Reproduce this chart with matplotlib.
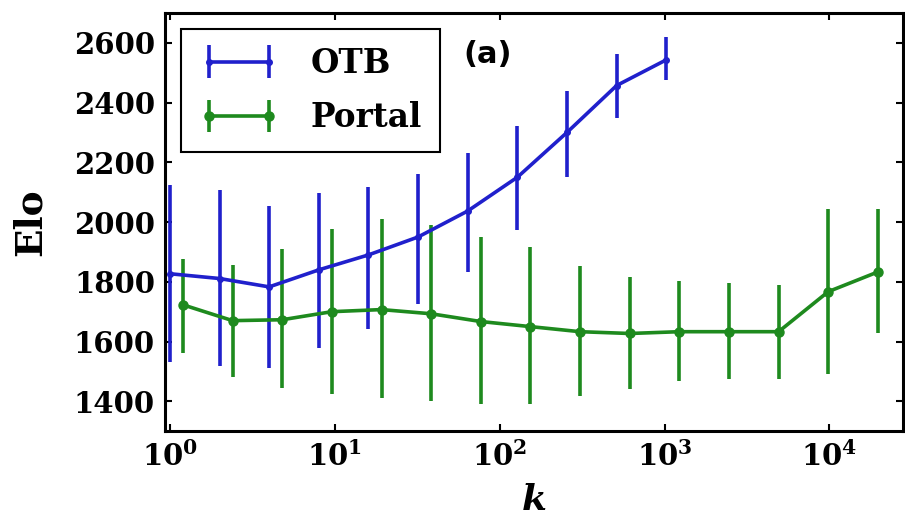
import matplotlib
matplotlib.use("Agg")
import matplotlib.pyplot as plt
from matplotlib.ticker import FixedLocator, FuncFormatter, NullLocator
import numpy as np

plt.rcParams['mathtext.fontset'] = 'custom'
plt.rcParams['mathtext.rm'] = 'DejaVu Serif:bold'
plt.rcParams['mathtext.bf'] = 'DejaVu Serif:bold'
plt.rcParams['mathtext.it'] = 'DejaVu Serif:italic:bold'

# OTB series
otb_k = [1, 2, 4, 8, 16, 32, 64, 128, 256, 512, 1024]
otb_elo = [1827, 1811, 1783, 1840, 1890, 1950, 2037, 2150, 2300, 2457, 2543]
otb_lo = [1533, 1517, 1513, 1580, 1643, 1727, 1833, 1973, 2150, 2347, 2477]
otb_hi = [2123, 2107, 2053, 2097, 2117, 2160, 2230, 2320, 2440, 2563, 2620]

# Portal series
portal_k = [1.2, 2.4, 4.8, 9.6, 19.2, 38.4, 76.8, 153.6, 307.2, 614.4,
            1228.8, 2457.6, 4915.2, 9830.4, 19660.8]
portal_elo = [1723, 1670, 1673, 1700, 1707, 1693, 1667, 1650, 1633, 1627,
              1633, 1633, 1633, 1767, 1833]
portal_lo = [1563, 1483, 1443, 1423, 1410, 1400, 1390, 1390, 1417, 1440,
             1467, 1473, 1473, 1490, 1627]
portal_hi = [1877, 1857, 1910, 1977, 2010, 1990, 1950, 1917, 1853, 1817,
             1803, 1797, 1790, 2043, 2043]

y_ticks = [1400, 1600, 1800, 2000, 2200, 2400, 2600]
x_ticks = [1, 10, 100, 1000, 10000]

blue = '#2020cc'
green = '#1e8a1e'

fig = plt.figure(figsize=(9.05, 5.17), dpi=100)
ax = fig.add_axes([0.182, 0.166, 0.816, 0.809])

def err(v, lo, hi):
    v = np.array(v); lo = np.array(lo); hi = np.array(hi)
    return np.vstack([v - lo, hi - v])

ax.errorbar(otb_k, otb_elo, yerr=err(otb_elo, otb_lo, otb_hi), color=blue,
            lw=2.6, elinewidth=2.6, marker='o', ms=4, capsize=0, label='OTB')
ax.errorbar(portal_k, portal_elo, yerr=err(portal_elo, portal_lo, portal_hi),
            color=green, lw=2.6, elinewidth=2.6, marker='o', ms=6.5, capsize=0,
            label='Portal')

ax.set_xscale('log')
ax.set_xlim(0.93, 28000)
ax.set_ylim(1300, 2700)

ax.xaxis.set_major_locator(FixedLocator(x_ticks))
ax.xaxis.set_minor_locator(NullLocator())
ax.xaxis.set_major_formatter(FuncFormatter(
    lambda v, p: r'$10^{%d}$' % int(round(np.log10(v)))))
ax.yaxis.set_major_locator(FixedLocator(y_ticks))
ax.yaxis.set_major_formatter(FuncFormatter(lambda v, p: '%d' % v))

ax.tick_params(axis='both', which='major', direction='in', length=5, width=1.5,
               top=True, right=True, labelsize=21, pad=7)
ax.tick_params(axis='y', labelfontfamily='DejaVu Serif')
for s in ax.spines.values():
    s.set_linewidth(2.2)

ax.set_ylabel('Elo', fontsize=27, fontweight='bold', family='DejaVu Serif')
ax.yaxis.set_label_coords(-0.157, 0.50)
ax.set_xlabel(r'$k$', fontsize=26)
ax.xaxis.set_label_coords(0.5, -0.125)

leg = ax.legend(loc='upper left', numpoints=2, fancybox=False, framealpha=1,
                edgecolor='black',
                prop={'family': 'DejaVu Serif', 'weight': 'bold', 'size': 23.5},
                borderaxespad=0.5, handlelength=2.46, borderpad=0.55,
                labelspacing=0.65, handletextpad=0.95)
leg.get_frame().set_linewidth(1.5)

ax.text(0.437, 0.90, '(a)', transform=ax.transAxes, fontsize=22,
        fontweight='bold', family='DejaVu Sans', ha='center', va='center')

fig.canvas.draw()
for lab in ax.get_yticklabels():
    lab.set_fontweight('bold')
    lab.set_family('DejaVu Serif')

fig.savefig('out.png', dpi=100)
